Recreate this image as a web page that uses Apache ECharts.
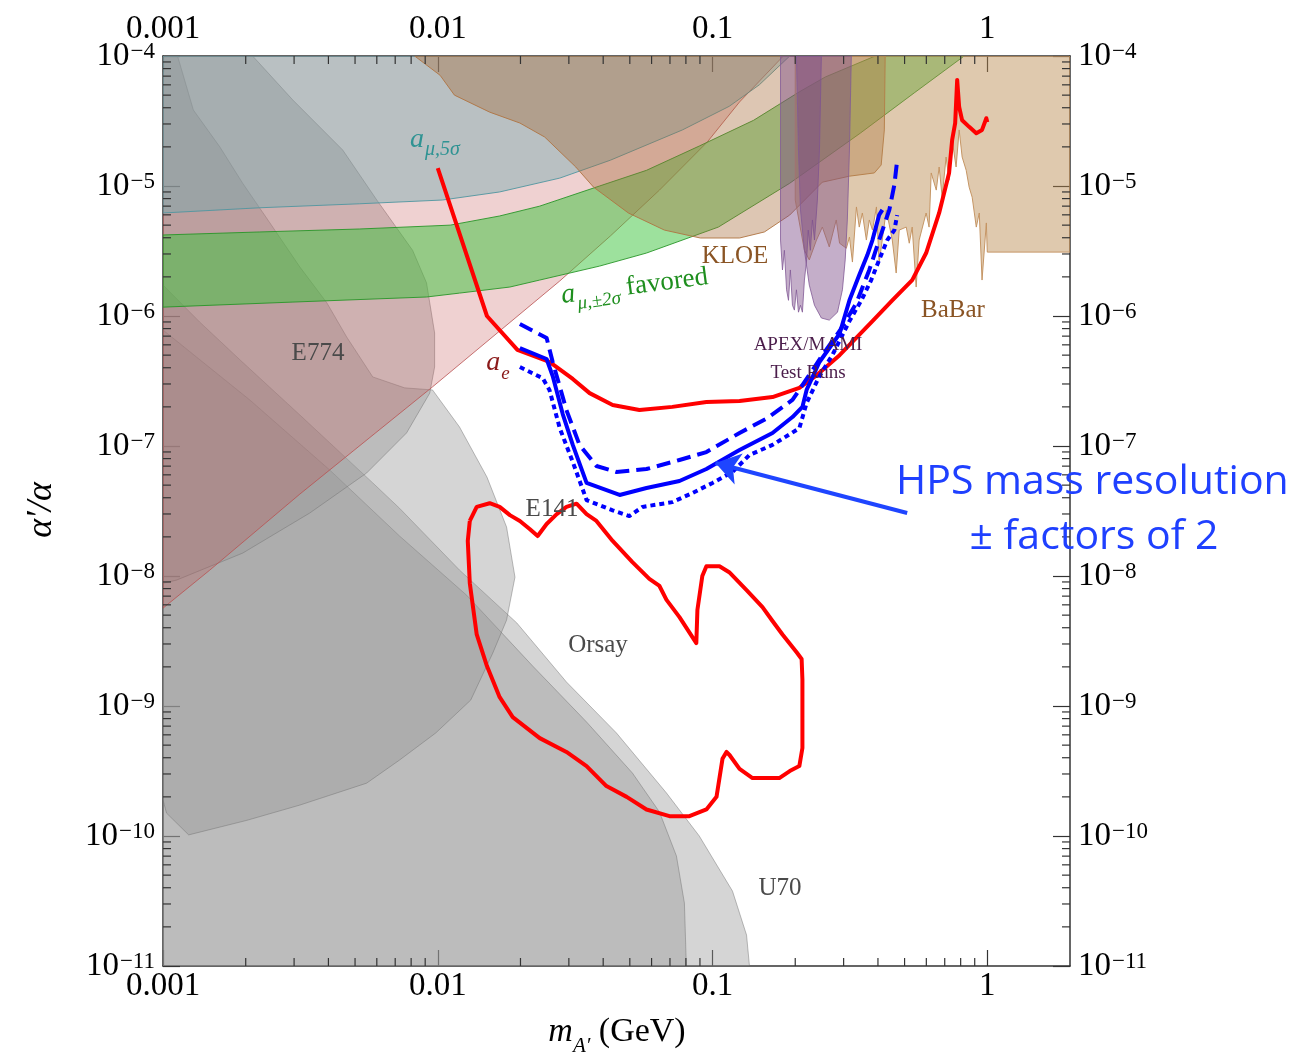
<!DOCTYPE html>
<html>
<head>
<meta charset="utf-8">
<script src="https://cdn.jsdelivr.net/npm/echarts@6/dist/echarts.min.js"></script>
<style>html,body{margin:0;padding:0;background:#fff}#c{width:1307px;height:1056px}</style>
</head>
<body>
<div id="c"></div>
<script>
// ---------- axes / ticks ----------
const xMin = 0.001, xMax = 2;
const yMin = 1e-11, yMax = 1e-4;
const xTickValues = [0.001, 0.01, 0.1, 1];
const xTickLabels = ['0.001', '0.01', '0.1', '1'];
const yTickExponents = [-11, -10, -9, -8, -7, -6, -5, -4];

// ---------- excluded regions (mass GeV, alpha'/alpha) ----------
const u70Region = [[0.001,1.73e-6],[0.00136,8.98e-7],[0.00191,4.58e-7],[0.00315,1.73e-7],[0.0058,5.2e-8],[0.00726,3.32e-8],[0.012,1.11e-8],[0.0194,4.35e-9],[0.0294,1.53e-9],[0.0447,6.2e-10],[0.068,2.14e-10],[0.0895,1e-10],[0.1182,3.77e-11],[0.133,1.73e-11],[0.1363,1e-11],[0.001,1e-11]];
const orsayRegion = [[0.001,7.8e-7],[0.00207,2.26e-7],[0.00404,6.55e-8],[0.00726,2.03e-8],[0.01275,7.1e-9],[0.02215,2.03e-9],[0.0348,7.53e-10],[0.0511,3.05e-10],[0.0641,1.53e-10],[0.0739,7.02e-11],[0.079,3.05e-11],[0.0803,1e-11],[0.001,1e-11]];
const e141Region = [[0.001,1e-4],[0.00113,1e-4],[0.00129,3.84e-5],[0.00161,2.0e-5],[0.00195,1.05e-5],[0.00245,5.2e-6],[0.00315,2.38e-6],[0.00395,1.26e-6],[0.00466,6.9e-7],[0.0058,3.4e-7],[0.00758,2.8e-7],[0.00957,2.7e-7],[0.012,1.4e-7],[0.0151,5.77e-8],[0.0178,2.38e-8],[0.0191,9.8e-9],[0.0178,4.58e-9],[0.01585,2.55e-9],[0.01318,1.11e-9],[0.00983,6.2e-10],[0.00726,3.84e-10],[0.00551,2.55e-10],[0.00315,1.73e-10],[0.00202,1.32e-10],[0.00124,1.02e-10],[0.00103,1.5e-10],[0.001,1.89e-10]];
const e774Region = [[0.001,1e-4],[0.00212,1e-4],[0.00297,4.58e-5],[0.00451,1.89e-5],[0.006,7.8e-6],[0.0081,3.2e-6],[0.0091,1.8e-6],[0.00974,7.4e-7],[0.00974,4.05e-7],[0.00935,2.55e-7],[0.0077,1.26e-7],[0.00551,6.2e-8],[0.00342,3.05e-8],[0.00195,1.5e-8],[0.00112,9.3e-9],[0.001,8.8e-9]];
const aeRegion = [[0.001,5.66e-9],[0.00148,1.11e-8],[0.00315,4.27e-8],[0.00957,2.85e-7],[0.0278,1.86e-6],[0.0425,4.13e-6],[0.0641,9.3e-6],[0.0957,2.18e-5],[0.1254,4.43e-5],[0.181,1e-4],[0.001,1e-4]];
const amu5sigmaRegion = [[0.001,6.2e-6],[0.00225,6.8e-6],[0.0052,7.3e-6],[0.0104,7.8e-6],[0.0168,9.0e-6],[0.0278,1.15e-5],[0.0425,1.58e-5],[0.0777,2.7e-5],[0.115,4.1e-5],[0.148,6.0e-5],[0.191,1e-4],[0.001,1e-4]];
const amuFavUpper = [[0.001,4.2e-6],[0.00225,4.43e-6],[0.0052,4.67e-6],[0.0111,5.0e-6],[0.0168,5.88e-6],[0.0235,7.0e-6],[0.0388,1e-5],[0.0575,1.32e-5],[0.0895,2.03e-5],[0.141,3.2e-5],[0.207,5.3e-5],[0.2575,6.9e-5],[0.391,1e-4]];
const amuFavLower = [[0.001,1.17e-6],[0.00297,1.28e-6],[0.0091,1.4e-6],[0.012,1.5e-6],[0.0183,1.67e-6],[0.0235,1.89e-6],[0.0388,2.42e-6],[0.0575,3.05e-6],[0.105,4.83e-6],[0.191,1.05e-5],[0.345,2.55e-5],[0.542,5.2e-5],[0.824,1e-4]];
const kloeRegion = [[0.00824,1e-4],[0.0102,7.1e-5],[0.0115,5.0e-5],[0.01545,3.7e-5],[0.0199,3.05e-5],[0.0245,2.38e-5],[0.0318,1.4e-5],[0.0369,9.8e-6],[0.0494,6.2e-6],[0.0668,4.58e-6],[0.0903,3.98e-6],[0.1254,3.98e-6],[0.1545,4.43e-6],[0.191,5.98e-6],[0.251,1.07e-5],[0.315,1.19e-5],[0.388,1.26e-5],[0.411,1.45e-5],[0.422,2.7e-5],[0.425,1e-4]];
const babarRegion = [[0.2,1e-4],[0.2,7.8e-6],[0.216,3.2e-6],[0.225,2.7e-6],[0.239,3.84e-6],[0.251,4.83e-6],[0.266,3.4e-6],[0.282,5.48e-6],[0.29,3.63e-6],[0.307,3.32e-6],[0.315,4.05e-6],[0.323,2.6e-6],[0.334,6.9e-6],[0.342,4.83e-6],[0.351,6.2e-6],[0.363,3.84e-6],[0.372,5.48e-6],[0.382,4.58e-6],[0.395,6.9e-6],[0.404,2.55e-6],[0.429,6.55e-6],[0.451,3.84e-6],[0.466,2.14e-6],[0.478,4.58e-6],[0.507,4.83e-6],[0.52,3.63e-6],[0.533,4.83e-6],[0.551,1.67e-6],[0.565,3.84e-6],[0.599,6.2e-6],[0.614,4.83e-6],[0.625,1.26e-5],[0.652,9.3e-6],[0.668,1.4e-5],[0.685,8.2e-6],[0.708,1.67e-5],[0.726,1.11e-5],[0.745,2.26e-5],[0.77,1.4e-5],[0.79,2.7e-5],[0.81,1.67e-5],[0.838,1.32e-5],[0.859,9.8e-6],[0.881,8.2e-6],[0.912,4.83e-6],[0.935,6.2e-6],[0.957,1.89e-6],[0.992,5.2e-6],[1.0,3.1e-6],[2,3.1e-6],[2,1e-4]];
const apexLobe1 = [[0.1768,1e-4],[0.1768,3.84e-6],[0.1797,2.26e-6],[0.1826,3.2e-6],[0.186,1.59e-6],[0.189,1.32e-6],[0.192,2.26e-6],[0.1954,1.21e-6],[0.1986,1.11e-6],[0.202,1.59e-6],[0.2055,1.07e-6],[0.209,1.21e-6],[0.2124,1.07e-6],[0.216,1.89e-6],[0.22,2.7e-6],[0.223,4.58e-6],[0.227,3.2e-6],[0.231,5.48e-6],[0.235,3.84e-6],[0.2408,7.8e-6],[0.245,1.89e-5],[0.249,1e-4]];
const apexLobe2 = [[0.202,1e-4],[0.2055,1.89e-5],[0.209,6.55e-6],[0.216,3.2e-6],[0.225,1.73e-6],[0.235,1.21e-6],[0.249,9.65e-7],[0.266,9.3e-7],[0.285,1.07e-6],[0.297,1.59e-6],[0.304,2.7e-6],[0.3095,5.48e-6],[0.315,1.89e-5],[0.32,1e-4]];

// ---------- reach curves ----------
const redReach = [[0.01,1.37e-5],[0.0151,1e-6],[0.0195,5.48e-7],[0.0255,4.43e-7],[0.031,3.28e-7],[0.0357,2.55e-7],[0.0433,2.07e-7],[0.0542,1.89e-7],[0.0714,2.0e-7],[0.095,2.18e-7],[0.1254,2.22e-7],[0.1653,2.38e-7],[0.207,2.8e-7],[0.239,3.5e-7],[0.29,5.0e-7],[0.382,9.15e-7],[0.451,1.32e-6],[0.533,1.89e-6],[0.599,3.05e-6],[0.668,6.2e-6],[0.726,1.26e-5],[0.745,2.26e-5],[0.764,3.05e-5],[0.777,6.55e-5],[0.79,4.05e-5],[0.81,3.2e-5],[0.859,2.85e-5],[0.912,2.55e-5],[0.957,2.7e-5],[0.992,3.32e-5],[1.0,3.1e-5]];
const redVertex = [[0.01308,2.65e-8],[0.01386,3.4e-8],[0.01545,3.63e-8],[0.0168,3.4e-8],[0.0183,2.94e-8],[0.0199,2.65e-8],[0.0216,2.3e-8],[0.0231,2.03e-8],[0.0249,2.51e-8],[0.0271,2.99e-8],[0.0294,3.4e-8],[0.032,3.6e-8],[0.0348,2.99e-8],[0.0378,2.65e-8],[0.0433,1.86e-8],[0.0511,1.28e-8],[0.0589,9.5e-9],[0.0641,8.38e-9],[0.068,6.55e-9],[0.0758,4.83e-9],[0.0873,3.05e-9],[0.0881,5.48e-9],[0.0918,1e-8],[0.095,1.19e-8],[0.106,1.19e-8],[0.115,1.07e-8],[0.133,7.8e-9],[0.152,5.77e-9],[0.1653,4.51e-9],[0.1797,3.55e-9],[0.202,2.6e-9],[0.211,2.3e-9],[0.2124,1.6e-9],[0.2124,4.75e-10],[0.207,3.45e-10],[0.191,3.16e-10],[0.175,2.79e-10],[0.1398,2.79e-10],[0.1254,3.28e-10],[0.1153,4.2e-10],[0.1124,4.43e-10],[0.1087,3.92e-10],[0.1034,2.0e-10],[0.095,1.6e-10],[0.0824,1.42e-10],[0.0697,1.42e-10],[0.0575,1.6e-10],[0.0487,2.0e-10],[0.0411,2.42e-10],[0.0348,3.45e-10],[0.0294,4.43e-10],[0.0235,5.66e-10],[0.01874,8.2e-10],[0.0168,1.17e-9],[0.0151,2.03e-9],[0.01386,3.55e-9],[0.01308,8.8e-9],[0.01286,1.86e-8],[0.01308,2.65e-8]];
const hpsNominal = [[0.0199,5.66e-7],[0.0249,4.67e-7],[0.0262,3.45e-7],[0.0285,1.76e-7],[0.031,1.02e-7],[0.0348,5.2e-8],[0.0459,4.2e-8],[0.0575,4.75e-8],[0.0758,5.38e-8],[0.095,6.65e-8],[0.1254,9.3e-8],[0.1653,1.26e-7],[0.1954,1.67e-7],[0.2124,2.0e-7],[0.22,2.7e-7],[0.245,4.43e-7],[0.29,7.3e-7],[0.315,1.32e-6],[0.342,2.07e-6],[0.366,2.94e-6],[0.382,3.84e-6],[0.395,5.0e-6],[0.404,5.98e-6],[0.415,6.55e-6]];
const hpsWorse = [[0.0199,8.68e-7],[0.0249,6.78e-7],[0.0262,4.43e-7],[0.0294,1.89e-7],[0.0328,1.02e-7],[0.0378,7.02e-8],[0.0447,6.31e-8],[0.0575,6.65e-8],[0.0758,7.8e-8],[0.095,8.98e-8],[0.1254,1.26e-7],[0.157,1.62e-7],[0.1954,2.26e-7],[0.22,3.28e-7],[0.251,5.0e-7],[0.29,7.67e-7],[0.334,1.26e-6],[0.372,2.26e-6],[0.404,3.84e-6],[0.44,6.55e-6],[0.459,1.02e-5],[0.47,1.58e-5]];
const hpsBetter = [[0.0199,4.05e-7],[0.0241,3.32e-7],[0.0255,2.7e-7],[0.0278,1.37e-7],[0.031,7.53e-8],[0.0348,3.84e-8],[0.0433,3.2e-8],[0.0498,2.89e-8],[0.0556,3.4e-8],[0.0714,3.7e-8],[0.0845,4.35e-8],[0.1,5.2e-8],[0.1182,6.31e-8],[0.1363,8.53e-8],[0.1653,1.02e-7],[0.207,1.37e-7],[0.22,2.14e-7],[0.245,3.45e-7],[0.273,5.0e-7],[0.315,9.15e-7],[0.348,1.32e-6],[0.378,1.89e-6],[0.404,2.7e-6],[0.4325,3.84e-6],[0.459,4.58e-6],[0.47,5.98e-6]];
const arrowCoords = [[0.511,3.05e-8],[0.1025,7.4e-8]];

// minor tick positions (2..9 x decade)
const minorX = [], minorY = [];
for (let e = -3; e <= -1; e++) for (let m = 2; m <= 9; m++) minorX.push(m * Math.pow(10, e));
for (let e = -11; e <= -5; e++) for (let m = 2; m <= 9; m++) minorY.push(m * Math.pow(10, e));

const SERIF = "'Liberation Serif','DejaVu Serif',serif";

function polySeries(name, data, fill, stroke, z) {
  return {
    type: 'custom', name: name, data: data, coordinateSystem: 'cartesian2d',
    xAxisIndex: 0, yAxisIndex: 0, z: z, silent: true, clip: true,
    encode: { x: 0, y: 1 },
    renderItem: function (params, api) {
      if (params.dataIndex !== 0) return null;
      return { type: 'polygon', shape: { points: data.map(function (p) { return api.coord(p); }) },
               style: { fill: fill, stroke: stroke, lineWidth: 1 } };
    }
  };
}
function lineSeries(name, data, color, width, dash, z) {
  return { type: 'line', name: name, data: data, showSymbol: false, symbol: 'none', silent: true,
           xAxisIndex: 0, yAxisIndex: 0, z: z, clip: true,
           lineStyle: { color: color, width: width, type: dash, cap: 'butt', join: 'round' } };
}
function yFmt(v) {
  const l = Math.log10(v), e = Math.round(l);
  if (Math.abs(l - e) > 1e-6 || yTickExponents.indexOf(e) < 0) return '';
  return '{b|10}{s|\u2212' + (-e) + '}';
}
function xFmt(v) {
  for (let i = 0; i < xTickValues.length; i++) if (Math.abs(Math.log10(v / xTickValues[i])) < 1e-6) return xTickLabels[i];
  return '';
}
const yRich = {
  b: { fontSize: 33, fontFamily: SERIF, color: '#000', verticalAlign: 'bottom' },
  s: { fontSize: 23, fontFamily: SERIF, color: '#000', verticalAlign: 'bottom', padding: [0, 0, 9, 1] }
};
const axisLineStyle = { color: '#333', width: 1.5 };
function xAxisDef(pos) {
  return { type: 'log', logBase: 10, min: xMin, max: xMax, position: pos, splitNumber: 4,
    axisLine: { show: true, onZero: false, lineStyle: axisLineStyle },
    axisTick: { show: true, inside: true, length: 16, lineStyle: { color: '#333', width: 1.2 } },
    splitLine: { show: false }, minorTick: { show: false },
    axisLabel: { show: true, formatter: xFmt, fontFamily: SERIF, fontSize: 33, color: '#000',
                 margin: pos === 'top' ? 10 : 4, showMaxLabel: false } };
}
function yAxisDef(pos) {
  return { type: 'log', logBase: 10, min: yMin, max: yMax, position: pos, splitNumber: 7,
    axisLine: { show: true, onZero: false, lineStyle: axisLineStyle },
    axisTick: { show: true, inside: true, length: 17, lineStyle: { color: '#333', width: 1.2 } },
    splitLine: { show: false }, minorTick: { show: false },
    axisLabel: { show: true, formatter: yFmt, rich: yRich, margin: 8,
                 align: pos === 'left' ? 'right' : 'left' } };
}

const grayFill = 'rgba(150,150,150,0.4)', grayStroke = 'rgba(110,110,110,0.45)';
const series = [
  polySeries('U70', u70Region, grayFill, grayStroke, 1),
  polySeries('Orsay', orsayRegion, grayFill, grayStroke, 1),
  polySeries('E141', e141Region, grayFill, grayStroke, 1),
  polySeries('E774', e774Region, grayFill, grayStroke, 1),
  polySeries('a_e', aeRegion, 'rgba(190,70,70,0.25)', 'rgba(185,80,80,0.8)', 2),
  polySeries('a_mu 5 sigma', amu5sigmaRegion, 'rgba(110,170,175,0.42)', 'rgba(80,150,160,0.9)', 2),
  polySeries('a_mu favored', amuFavUpper.concat(amuFavLower.slice().reverse()), 'rgba(60,195,60,0.5)', 'rgba(40,150,40,0.9)', 2),
  polySeries('KLOE', kloeRegion, 'rgba(165,105,55,0.38)', 'rgba(175,115,65,0.9)', 2),
  polySeries('BaBar', babarRegion, 'rgba(185,135,75,0.45)', 'rgba(195,145,95,0.95)', 2),
  polySeries('APEX/MAMI 1', apexLobe1, 'rgba(125,75,135,0.45)', 'rgba(130,90,150,0.8)', 3),
  polySeries('APEX/MAMI 2', apexLobe2, 'rgba(125,75,135,0.45)', 'rgba(130,90,150,0.8)', 3),
  lineSeries('reach', redReach, '#ff0000', 4, 'solid', 5),
  lineSeries('vertex', redVertex, '#ff0000', 4, 'solid', 5),
  lineSeries('HPS nominal', hpsNominal, '#0000ff', 4, 'solid', 6),
  lineSeries('HPS x2 worse', hpsWorse, '#0000ff', 4, [14, 7], 6),
  lineSeries('HPS x2 better', hpsBetter, '#0000ff', 4, [5, 4], 6),
  { type: 'lines', coordinateSystem: 'cartesian2d', xAxisIndex: 0, yAxisIndex: 0, z: 7, silent: true,
    data: [{ coords: arrowCoords }], symbol: ['none', 'arrow'], symbolSize: [0, 24],
    lineStyle: { color: '#1f45ff', width: 4, opacity: 1, curveness: 0 } },
  { type: 'custom', name: 'minorX', data: minorX.map(function (v) { return [v]; }), coordinateSystem: 'cartesian2d',
    xAxisIndex: 0, yAxisIndex: 0, z: 10, silent: true, clip: false, encode: { x: 0 },
    renderItem: function (params, api) {
      const v = api.value(0), b = api.coord([v, yMin]), t = api.coord([v, yMax]);
      const st = { stroke: '#333', lineWidth: 1.2 };
      return { type: 'group', children: [
        { type: 'line', shape: { x1: b[0], y1: b[1], x2: b[0], y2: b[1] - 8 }, style: st },
        { type: 'line', shape: { x1: t[0], y1: t[1], x2: t[0], y2: t[1] + 8 }, style: st } ] };
    } },
  { type: 'custom', name: 'minorY', data: minorY.map(function (v) { return [xMin, v]; }), coordinateSystem: 'cartesian2d',
    xAxisIndex: 0, yAxisIndex: 0, z: 10, silent: true, clip: false, encode: { x: 0, y: 1 },
    renderItem: function (params, api) {
      const v = api.value(1), l = api.coord([xMin, v]), r = api.coord([xMax, v]);
      const st = { stroke: '#333', lineWidth: 1.2 };
      return { type: 'group', children: [
        { type: 'line', shape: { x1: l[0], y1: l[1], x2: l[0] + 8, y2: l[1] }, style: st },
        { type: 'line', shape: { x1: r[0], y1: r[1], x2: r[0] - 8, y2: r[1] }, style: st } ] };
    } }
];

function label(text, x, y, size, color, extra) {
  return Object.assign({ type: 'text', x: x, y: y, z: 20, silent: true,
    style: { text: text, fontFamily: SERIF, fontSize: size, fill: color, align: 'center', verticalAlign: 'middle' } }, extra || {});
}
const SANS = "'Open Sans',Lato,sans-serif";
const graphics = [
  label('E774', 318, 353, 25, '#4a4a4a'),
  label('E141', 552, 509, 25, '#4a4a4a'),
  label('Orsay', 598, 645, 25, '#4a4a4a'),
  label('U70', 780, 888, 25, '#4a4a4a'),
  label('KLOE', 735, 256, 25, '#8a5424'),
  label('BaBar', 953, 310, 25, '#8a5424'),
  label('APEX/MAMI', 808, 345, 19, '#4b1d4b'),
  label('Test Runs', 808, 373, 19, '#4b1d4b'),
  { type: 'text', x: 435, y: 143, z: 20, silent: true,
    style: { text: '{a|a}{s|\u03bc,5\u03c3}', align: 'center', verticalAlign: 'middle', fill: '#2f9393',
      rich: { a: { fontFamily: SERIF, fontStyle: 'italic', fontSize: 28, fill: '#2f9393', verticalAlign: 'bottom', padding: [0, 1, 6, 0] },
              s: { fontFamily: SERIF, fontStyle: 'italic', fontSize: 20, fill: '#2f9393', verticalAlign: 'bottom' } } } },
  { type: 'text', x: 635, y: 289, z: 20, silent: true, rotation: 0.13,
    style: { text: '{a|a}{s|\u03bc,\u00b12\u03c3}{r| favored}', align: 'center', verticalAlign: 'middle', fill: '#1f8f1f',
      rich: { a: { fontFamily: SERIF, fontStyle: 'italic', fontSize: 28, fill: '#1f8f1f', verticalAlign: 'bottom', padding: [0, 1, 6, 0] },
              s: { fontFamily: SERIF, fontStyle: 'italic', fontSize: 19, fill: '#1f8f1f', verticalAlign: 'bottom' },
              r: { fontFamily: SERIF, fontSize: 27, fill: '#1f8f1f', verticalAlign: 'bottom', padding: [0, 0, 6, 0] } } } },
  { type: 'text', x: 498, y: 366, z: 20, silent: true,
    style: { text: '{a|a}{s|e}', align: 'center', verticalAlign: 'middle', fill: '#8b1a1a',
      rich: { a: { fontFamily: SERIF, fontStyle: 'italic', fontSize: 28, fill: '#8b1a1a', verticalAlign: 'bottom', padding: [0, 1, 6, 0] },
              s: { fontFamily: SERIF, fontStyle: 'italic', fontSize: 19, fill: '#8b1a1a', verticalAlign: 'bottom' } } } },
  { type: 'text', x: 896, y: 482, z: 20, silent: true,
    style: { text: 'HPS mass resolution', fontFamily: SANS, fontSize: 41, fill: '#1f40ff', align: 'left', verticalAlign: 'middle' } },
  { type: 'text', x: 1094, y: 537, z: 20, silent: true,
    style: { text: '\u00b1 factors of 2', fontFamily: SANS, fontSize: 41, fill: '#1f40ff', align: 'center', verticalAlign: 'middle' } },
  { type: 'text', x: 42, y: 510, z: 20, silent: true, rotation: Math.PI / 2,
    style: { text: '\u03b1\u2032/\u03b1', fontFamily: SERIF, fontStyle: 'italic', fontSize: 36, fill: '#000', align: 'center', verticalAlign: 'middle' } },
  { type: 'text', x: 617, y: 1036, z: 20, silent: true,
    style: { text: '{m|m}{s|A\u2032}{r| (GeV)}', align: 'center', verticalAlign: 'middle', fill: '#000',
      rich: { m: { fontFamily: SERIF, fontStyle: 'italic', fontSize: 34, fill: '#000', verticalAlign: 'bottom', padding: [0, 0, 7, 0] },
              s: { fontFamily: SERIF, fontStyle: 'italic', fontSize: 21, fill: '#000', verticalAlign: 'bottom' },
              r: { fontFamily: SERIF, fontSize: 34, fill: '#000', verticalAlign: 'bottom', padding: [0, 0, 7, 0] } } } }
];

const chart = echarts.init(document.getElementById('c'), null, { renderer: 'canvas' });
chart.setOption({
  animation: false,
  backgroundColor: '#fff',
  grid: { left: 163, right: 237, top: 56, bottom: 90 },
  xAxis: [xAxisDef('bottom'), xAxisDef('top')],
  yAxis: [yAxisDef('left'), yAxisDef('right')],
  series: series,
  graphic: graphics
});
</script>
</body>
</html>
